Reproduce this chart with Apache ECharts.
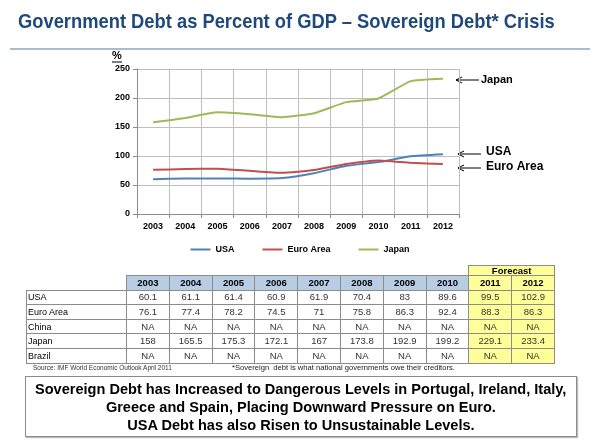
<!DOCTYPE html>
<html>
<head>
<meta charset="utf-8">
<script src="https://cdn.jsdelivr.net/npm/echarts@6/dist/echarts.min.js"></script>
<style>
    body{margin:0;background:#fff;}
    #wrap{position:relative;width:600px;height:446px;overflow:hidden;font-family:"Liberation Sans",Arial,sans-serif;}
    #chart{position:absolute;left:0;top:0;width:600px;height:446px;}
    .title{position:absolute;left:18px;top:9px;font-size:21px;font-weight:bold;color:#1F497D;white-space:nowrap;}
    .title span{display:inline-block;transform-origin:0 50%;}
    .rule{position:absolute;left:10px;top:48px;width:580px;height:2px;background:#A9BCD6;}
    #tbl{position:absolute;left:26px;top:265px;border-collapse:collapse;table-layout:fixed;font-size:9.5px;color:#333;}
    #tbl td{padding:0;text-align:center;height:13.6px;line-height:12px;}
    #tbl td.b{border:1px solid #8c8c8c;}
    #tbl td.lab{text-align:left;padding-left:1px;color:#000;font-size:9px;}
    #tbl td.hd{background:#B8CCE4;font-weight:bold;color:#000;}
    #tbl td.fc{background:#FFFF99;}
    .src{position:absolute;left:33px;top:364px;font-size:6.5px;color:#333;white-space:nowrap;}
    .note{position:absolute;left:232px;top:363px;font-size:7.6px;color:#222;white-space:nowrap;}
    .box{position:absolute;left:25px;top:376px;width:552px;height:61px;border:1px solid #8c8c8c;box-shadow:1px 1px 1px #bbb;
         text-align:center;font-weight:bold;font-size:15px;line-height:18px;color:#000;padding-top:3px;box-sizing:border-box;}
    .box span{display:inline-block;white-space:nowrap;transform-origin:50% 50%;}
</style>
</head>
<body>
<div id="wrap">
    <div id="chart"></div>
    <div class="title"><span id="ttl">Government Debt as Percent of GDP – Sovereign Debt* Crisis</span></div>
    <div class="rule"></div>
    <table id="tbl"></table>
    <div class="src">Source: IMF World Economic Outlook April 2011</div>
    <div class="note">*Sovereign&nbsp; debt is what national governments owe their creditors.</div>
    <div class="box">
        <div><span>Sovereign Debt has Increased to Dangerous Levels in Portugal, Ireland, Italy,</span></div>
        <div><span>Greece and Spain, Placing Downward Pressure on Euro.</span></div>
        <div><span>USA Debt has also Risen to Unsustainable Levels.</span></div>
    </div>
</div>
<script>
    var years = ['2003','2004','2005','2006','2007','2008','2009','2010','2011','2012'];
    var usa = [60.1, 61.1, 61.4, 60.9, 61.9, 70.4, 83, 89.6, 99.5, 102.9];
    var euro = [76.1, 77.4, 78.2, 74.5, 71, 75.8, 86.3, 92.4, 88.3, 86.3];
    var japan = [158, 165.5, 175.3, 172.1, 167, 173.8, 192.9, 199.2, 229.1, 233.4];
    var china = ['NA','NA','NA','NA','NA','NA','NA','NA','NA','NA'];
    var brazil = ['NA','NA','NA','NA','NA','NA','NA','NA','NA','NA'];
    var yTicks = [0, 50, 100, 150, 200, 250];
    var forecastFrom = 8;

    // squeeze the Arial-like text to the narrower Calibri widths of the slide
    var ttl = document.getElementById('ttl');
    ttl.style.transform = 'scaleX(' + (537 / ttl.offsetWidth) + ')';
    var spans = document.querySelectorAll('.box span');
    var k = 531 / spans[0].offsetWidth;
    spans.forEach(function(s){ s.style.transform = 'scaleX(' + k + ')'; });

    // table built from the arrays
    var rows = [['USA', usa], ['Euro Area', euro], ['China', china], ['Japan', japan], ['Brazil', brazil]];
    var html = '<colgroup><col style="width:100px">';
    years.forEach(function(){ html += '<col style="width:42.8px">'; });
    html += '</colgroup>';
    html += '<tr><td style="height:9px"></td>';
    for (var i = 0; i < forecastFrom; i++) html += '<td style="height:9px"></td>';
    html += '<td class="b fc" colspan="2" style="font-weight:bold;color:#000;height:9px;line-height:9px">Forecast</td></tr>';
    html += '<tr><td></td>';
    years.forEach(function(y, i){ html += '<td class="b ' + (i >= forecastFrom ? 'fc' : 'hd') + '" style="font-weight:bold;color:#000">' + y + '</td>'; });
    html += '</tr>';
    rows.forEach(function(r){
        html += '<tr><td class="b lab">' + r[0] + '</td>';
        r[1].forEach(function(v, i){ html += '<td class="b' + (i >= forecastFrom ? ' fc' : '') + '">' + v + '</td>'; });
        html += '</tr>';
    });
    document.getElementById('tbl').innerHTML = html;

    var myChart = echarts.init(document.getElementById('chart'));
    var lab = {fontFamily: 'Liberation Sans', fontWeight: 'bold', fontSize: 9, color: '#000'};
    var option = {
        animation: false,
        backgroundColor: 'transparent',
        color: ['#4F81BD', '#C0504D', '#9BBB59'],
        grid: {left: 137, right: 141, top: 69, bottom: 232},
        legend: {
            top: 240, left: 'center',
            icon: 'rect', itemWidth: 20, itemHeight: 2, itemGap: 28,
            textStyle: lab,
            data: ['USA', 'Euro Area', 'Japan']
        },
        xAxis: {
            type: 'category',
            data: years,
            boundaryGap: true,
            axisLine: {lineStyle: {color: '#8c8c8c'}},
            axisTick: {show: true, length: 4, lineStyle: {color: '#8c8c8c'}},
            axisLabel: Object.assign({margin: 8}, lab),
            splitLine: {show: true, lineStyle: {color: '#bfbfbf'}}
        },
        yAxis: {
            type: 'value',
            min: yTicks[0], max: yTicks[yTicks.length - 1], interval: 50,
            axisLine: {show: true, lineStyle: {color: '#8c8c8c'}},
            axisTick: {show: true, length: 4, lineStyle: {color: '#8c8c8c'}},
            axisLabel: Object.assign({margin: 7}, lab),
            splitLine: {show: true, lineStyle: {color: '#bfbfbf'}}
        },
        series: [
            {name: 'USA', type: 'line', data: usa, symbol: 'none', smooth: 0.15, lineStyle: {width: 2}},
            {name: 'Euro Area', type: 'line', data: euro, symbol: 'none', smooth: 0.15, lineStyle: {width: 2}},
            {name: 'Japan', type: 'line', data: japan, symbol: 'none', smooth: 0.15, lineStyle: {width: 2}}
        ],
        graphic: [
            {type: 'text', left: 112, top: 50, style: {text: '%', font: 'bold 11px "Liberation Sans"', fill: '#000'}},
            {type: 'line', shape: {x1: 112, y1: 62, x2: 122, y2: 62}, style: {stroke: '#000', lineWidth: 1}},
            // Japan arrow
            {type: 'polyline', shape: {points: [[462, 77], [456, 80], [462, 83]]}, style: {stroke: '#000', fill: null, lineWidth: 1}},
            {type: 'line', shape: {x1: 456, y1: 80, x2: 479, y2: 80}, style: {stroke: '#000', lineWidth: 1}},
            {type: 'text', left: 481, top: 74, style: {text: 'Japan', font: 'bold 11px "Liberation Sans"', fill: '#000'}},
            // USA arrow
            {type: 'polyline', shape: {points: [[464, 151], [458, 154], [464, 157]]}, style: {stroke: '#000', fill: null, lineWidth: 1}},
            {type: 'line', shape: {x1: 458, y1: 154, x2: 481, y2: 154}, style: {stroke: '#000', lineWidth: 1}},
            {type: 'text', left: 486, top: 146, style: {text: 'USA', font: 'bold 12px "Liberation Sans"', fill: '#000'}},
            // Euro arrow
            {type: 'polyline', shape: {points: [[464, 165], [458, 168], [464, 171]]}, style: {stroke: '#000', fill: null, lineWidth: 1}},
            {type: 'line', shape: {x1: 458, y1: 168, x2: 481, y2: 168}, style: {stroke: '#000', lineWidth: 1}},
            {type: 'text', left: 486, top: 161, style: {text: 'Euro Area', font: 'bold 12px "Liberation Sans"', fill: '#000'}}
        ]
    };
    myChart.setOption(option);
</script>
</body>
</html>
